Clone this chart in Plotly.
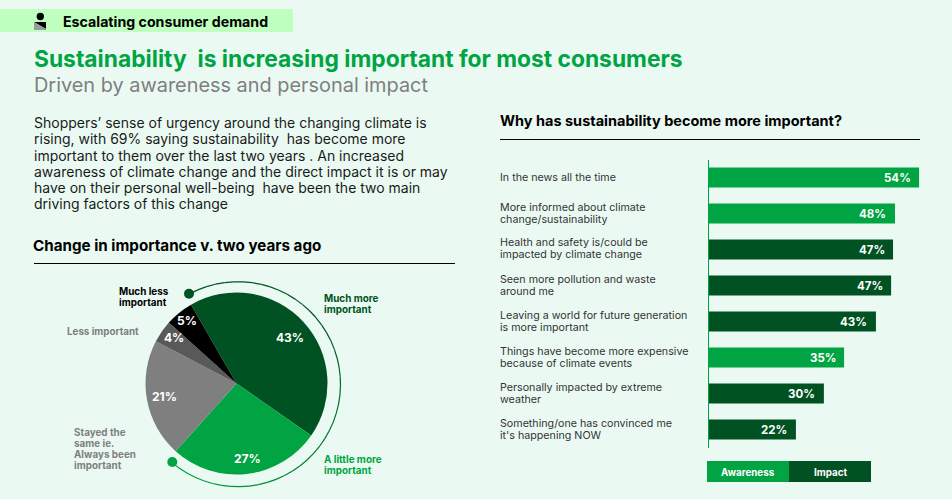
import numpy as np
import plotly.graph_objects as go

W, H = 952, 499
FONT = "Inter"

BG = "#EAFAF3"
DARK = "#005222"
GREEN = "#00A443"
GREY = "#7F7F7F"

# Pie data
pie_labels = ["Much more important", "A little more important",
              "Stayed the same ie. Always been important", "Less important", "Much less important"]
pie_values = [43, 27, 21, 4, 5]
pie_colors = [DARK, GREEN, GREY, "#595959", "#000000"]
pie_value_xy = [(290, 338), (247, 459), (164, 397), (174, 338), (187, 321)]

# Bar data
bar_categories = [
    "In the news all the time",
    "More informed about climate<br>change/sustainability",
    "Health and safety is/could be<br>impacted by climate change",
    "Seen more pollution and waste<br>around me",
    "Leaving a world for future generation<br>is more important",
    "Things have become more expensive<br>because of climate events",
    "Personally impacted by extreme<br>weather",
    "Something/one has convinced me<br>it's happening NOW",
]
bar_lengths = [54.2, 48, 47.5, 47, 43.1, 34.9, 29.7, 22.5]
bar_labels = [54, 48, 47, 47, 43, 35, 30, 22]
bar_groups = ["Awareness", "Awareness", "Impact", "Impact", "Impact", "Awareness", "Impact", "Impact"]
group_colors = {"Awareness": GREEN, "Impact": DARK}

paragraph = [
    "Shoppers’ sense of urgency around the changing climate is",
    "rising, with 69% saying sustainability  has become more",
    "important to them over the last two years . An increased",
    "awareness of climate change and the direct impact it is or may",
    "have on their personal well-being  have been the two main",
    "driving factors of this change",
]


def px(x):
    return x / W


def py(y):
    return 1 - y / H


annotations = []
shapes = []


def text(x, y, s, size, color, weight=400, anchor="left"):
    annotations.append(dict(
        x=px(x), y=py(y - 0.5), xref="paper", yref="paper", text=s, showarrow=False,
        xanchor=anchor, yanchor="middle", borderpad=0, borderwidth=0,
        font=dict(family=FONT, size=size, color=color, weight=weight),
    ))


def rect(x0, y0, x1, y1, color):
    shapes.append(dict(type="rect", xref="paper", yref="paper", x0=px(x0), x1=px(x1),
                       y0=py(y0), y1=py(y1), fillcolor=color, line_width=0, layer="below"))


def hline(x0, x1, y, color="#000000", width=1):
    shapes.append(dict(type="line", xref="paper", yref="paper", x0=px(x0), x1=px(x1),
                       y0=py(y), y1=py(y), line=dict(color=color, width=width)))


def dot(cx, cy, r, color):
    shapes.append(dict(type="circle", xref="paper", yref="paper", x0=px(cx - r), x1=px(cx + r),
                       y0=py(cy + r), y1=py(cy - r), fillcolor=color, line_width=0))


# Header band and icon
rect(0, 9, 293, 32, "#BFFFBF")
dot(40.3, 16.5, 3.7, "#000000")
shapes.append(dict(type="path", xref="paper", yref="paper", fillcolor="#000000", line_width=0,
                   path=f"M{px(34)},{py(22)} L{px(46)},{py(22)} L{px(46)},{py(29)} Z"))
shapes.append(dict(type="path", xref="paper", yref="paper", fillcolor="#9A9A9A", line_width=0,
                   path=f"M{px(34)},{py(22)} L{px(46)},{py(29)} L{px(46)},{py(30)} L{px(34)},{py(30)} Z"))
text(63, 21.5, "Escalating consumer demand", 14.2, "#000000", 700)

text(34, 59, "Sustainability  is increasing important for most consumers", 22.8, GREEN, 700)
text(34, 85, "Driven by awareness and personal impact", 19.9, "#7F7F7F", 400)

for line, y in zip(paragraph, [122.5, 139, 155.5, 171.5, 188, 204]):
    text(34, y, line, 14, "#1A1A1A", 400)

text(33, 246, "Change in importance v. two years ago", 15.2, "#000000", 700)
hline(34, 455, 263.5)
text(500, 121, "Why has sustainability become more important?", 14.5, "#000000", 700)
hline(500, 920, 139.5)

# Arc round the pie
cx, cy, r = 238, 384.2, 102.5
a0 = np.arctan2(-91.2, -49)
a1 = np.arctan2(77.8, -66)
# clockwise on screen = increasing angle with y pointing down
if a1 < a0:
    a1 += 2 * np.pi
n = 48
edges = np.linspace(a0, a1, n + 1)
c0, c1 = np.array([0, 0x52, 0x22]), np.array([0, 0xA4, 0x43])
for i in range(n):
    t = max(0, (i / (n - 1) - 0.3) / 0.7)
    col = c0 + (c1 - c0) * t
    shapes.append(dict(type="line", xref="paper", yref="paper",
                       x0=px(cx + r * np.cos(edges[i])), y0=py(cy + r * np.sin(edges[i])),
                       x1=px(cx + r * np.cos(edges[i + 1])), y1=py(cy + r * np.sin(edges[i + 1])),
                       line=dict(color=f"rgb({int(col[0])},{int(col[1])},{int(col[2])})", width=1.2)))
dot(189, 293.7, 5, DARK)
dot(172.3, 462, 5, GREEN)

# Pie callouts
for line, y in zip(["Much less", "important"], [291, 302]):
    text(118.7, y, line, 9.9, "#000000", 700)
for line, y in zip(["Much more", "important"], [298, 309]):
    text(324, y, line, 9.9, DARK, 700)
text(66.7, 332, "Less important", 9.8, GREY, 700)
for line, y in zip(["Stayed the", "same ie.", "Always been", "important"], [432, 443, 454, 465]):
    text(73.7, y, line, 9.9, GREY, 700)
for line, y in zip(["A little more", "important"], [459, 470]):
    text(324, y, line, 9.9, GREEN, 700)

for v, (x, y) in zip(pie_values, pie_value_xy):
    text(x, y, f"{v}%", 12, "#FFFFFF", 700, "center")

# Category labels, one annotation per line
for i, cat in enumerate(bar_categories):
    yc = 177.5 + 36 * i
    lines = cat.split("<br>")
    off = 0 if len(lines) == 1 else -6
    for j, line in enumerate(lines):
        text(500, yc + off + 12 * j, line, 10.7, "#333333", 400)

# Bar value labels through the axis
for cat, v, lab in zip(bar_categories, bar_lengths, bar_labels):
    annotations.append(dict(x=v, y=cat, xref="x", yref="y", text=f"{lab}%", showarrow=False,
                            xanchor="right", yanchor="middle", xshift=-6.5,
                            font=dict(family=FONT, size=11.5, color="#FFFFFF", weight=700)))

# Legend
rect(707, 461, 789, 482, GREEN)
rect(789, 461, 871, 482, DARK)
text(748, 473, "Awareness", 9.8, "#FFFFFF", 700, "center")
text(830, 473, "Impact", 9.8, "#FFFFFF", 700, "center")

fig = go.Figure()
fig.add_trace(go.Pie(
    labels=pie_labels, values=pie_values, sort=False, direction="clockwise", rotation=330,
    marker=dict(colors=pie_colors, line=dict(width=0)), textinfo="none", hoverinfo="label+percent",
    showlegend=False,
    domain=dict(x=[px(145.5), px(327.5)], y=[py(474.5), py(292.5)]),
))
fig.add_trace(go.Bar(
    x=bar_lengths, y=bar_categories, orientation="h", width=0.556,
    marker=dict(color=[group_colors[g] for g in bar_groups], line_width=0),
    showlegend=False, hoverinfo="x+y",
))
fig.update_layout(
    width=W, height=H, autosize=False, margin=dict(l=0, r=0, t=0, b=0),
    paper_bgcolor=BG, plot_bgcolor="rgba(0,0,0,0)",
    annotations=annotations, shapes=shapes,
    xaxis=dict(domain=[px(708.5), px(920)], range=[0, 211.5 / 3.885], visible=False, fixedrange=True),
    yaxis=dict(domain=[py(447.5), py(159.5)], autorange="reversed", type="category",
               showticklabels=False, ticks="", showgrid=False, zeroline=False,
               showline=True, linecolor=GREEN, linewidth=1, fixedrange=True),
)
fig.write_html("out.html", config={"displayModeBar": False},
               post_script="document.body.style.margin='0';document.body.style.overflow='hidden';")
